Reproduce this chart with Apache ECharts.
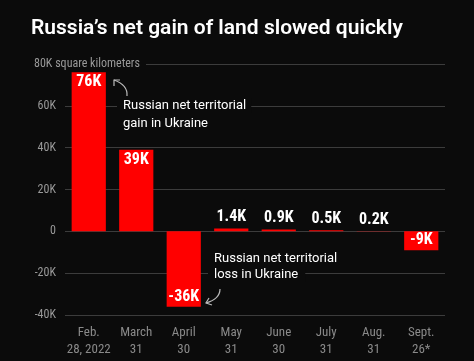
<!DOCTYPE html>
<html><head><meta charset="utf-8">
<script src="https://cdn.jsdelivr.net/npm/echarts@6/dist/echarts.min.js"></script>
<style>html,body{margin:0;padding:0;background:#0b0b0b;}#c{width:474px;height:361px;}</style>
</head><body><div id="c"></div>
<script>
const categories = ['Feb.\n28, 2022','March\n31','April\n30','May\n31','June\n30','July\n31','Aug.\n31','Sept.\n26*'];
const values = [76, 39, -36, 1.4, 0.9, 0.5, 0.2, -9];
const valueLabels = ['76K','39K','-36K','1.4K','0.9K','0.5K','0.2K','-9K'];
const yTicks = [-40, -20, 0, 20, 40, 60, 80];
const yTickLabels = ['-40K','-20K','0','20K','40K','60K',''];
const unitLabel = '80K square kilometers';
const gainNote = ['Russian net territorial', 'gain in Ukraine'];
const lossNote = ['Russian net territorial', 'loss in Ukraine'];

const BG = '#0b0b0b';
const NARROW = '"Liberation Sans Narrow", "Roboto Condensed", Roboto, sans-serif';
const chart = echarts.init(document.getElementById('c'));

function labelPos(v){
  if (Math.abs(v) < 5) return 'top';
  return v > 0 ? 'insideTop' : 'insideBottom';
}

const data = values.map((v, i) => ({
  value: v,
  label: { position: labelPos(v), distance: Math.abs(v) < 5 ? 3 : 2, formatter: valueLabels[i] }
}));

chart.setOption({
  backgroundColor: BG,
  animation: false,
  title: {
    text: 'Russia\u2019s net gain of land slowed quickly',
    left: 26, top: 13,
    textStyle: { color: '#ffffff', fontSize: 21, fontWeight: 600, fontFamily: 'Roboto, sans-serif' }
  },
  grid: { left: 65, right: 29, top: 64, bottom: 46 },
  xAxis: {
    type: 'category', data: categories,
    axisLine: { show: false }, axisTick: { show: false },
    axisLabel: { interval: 0, color: '#8a8a8a', fontSize: 13, fontFamily: NARROW, lineHeight: 17, margin: 9 }
  },
  yAxis: {
    type: 'value', min: -40, max: 80, interval: 20,
    axisLine: { show: false }, axisTick: { show: false },
    splitLine: { lineStyle: { color: '#3c3c3c', width: 1 } },
    axisLabel: {
      color: '#9a9a9a', fontSize: 12, fontFamily: NARROW, margin: 9,
      formatter: v => { const i = yTicks.indexOf(v); return i >= 0 ? yTickLabels[i] : ''; }
    }
  },
  series: [{
    type: 'bar', data: data, barWidth: '72%',
    itemStyle: { color: '#ff0000' },
    label: { show: true, color: '#ffffff', fontSize: 16, fontWeight: 'bold', fontFamily: NARROW }
  }],
  graphic: [
    { type: 'text', left: 33, top: 56, z: 100,
      style: { text: unitLabel, fill: '#9a9a9a', font: '12px ' + NARROW, backgroundColor: BG, padding: [2, 6, 2, 1] } },
    { type: 'text', left: 117, top: 98, z: 100,
      style: { text: gainNote[0], fill: '#ffffff', font: '13px Roboto, sans-serif', backgroundColor: BG, padding: [1, 5, 1, 6] } },
    { type: 'text', left: 123, top: 117, z: 100,
      style: { text: gainNote[1], fill: '#ffffff', font: '13px Roboto, sans-serif' } },
    { type: 'text', left: 214, top: 252, z: 100,
      style: { text: lossNote[0], fill: '#ffffff', font: '13px Roboto, sans-serif' } },
    { type: 'text', left: 208, top: 267, z: 100,
      style: { text: lossNote[1], fill: '#ffffff', font: '13px Roboto, sans-serif', backgroundColor: BG, padding: [1, 7, 1, 6] } },
    { type: 'bezierCurve', z: 100,
      shape: { x1: 127, y1: 96, x2: 114, y2: 80, cpx1: 128, cpy1: 85 },
      style: { stroke: '#bbbbbb', lineWidth: 1.2, fill: null } },
    { type: 'polyline', z: 100,
      shape: { points: [[114, 86], [114, 80], [120, 80]] },
      style: { stroke: '#bbbbbb', lineWidth: 1.2, fill: null } },
    { type: 'bezierCurve', z: 100,
      shape: { x1: 220, y1: 289, x2: 206, y2: 303, cpx1: 220, cpy1: 299 },
      style: { stroke: '#bbbbbb', lineWidth: 1.2, fill: null } },
    { type: 'polyline', z: 100,
      shape: { points: [[209, 298], [206, 303], [212, 305]] },
      style: { stroke: '#bbbbbb', lineWidth: 1.2, fill: null } }
  ]
});
</script></body></html>
